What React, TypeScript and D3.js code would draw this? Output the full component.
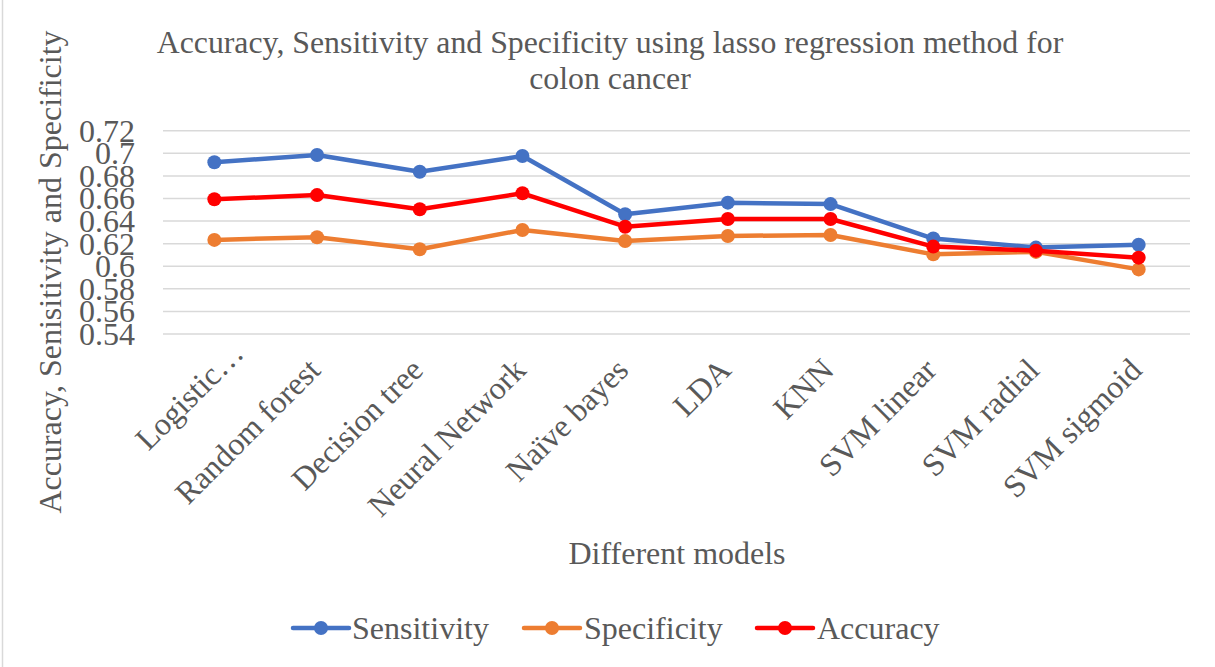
import React from "react";
import * as d3 from "d3";

const categories = [
  "Logistic…",
  "Random forest",
  "Decision tree",
  "Neural Network",
  "Naïve bayes",
  "LDA",
  "KNN",
  "SVM linear",
  "SVM radial",
  "SVM sigmoid",
];

const sensitivity = [0.692, 0.6985, 0.6837, 0.6976, 0.646, 0.6563, 0.655, 0.6245, 0.6165, 0.619];
const specificity = [0.6233, 0.6257, 0.615, 0.6321, 0.6224, 0.6268, 0.6277, 0.6105, 0.6127, 0.5972];
const accuracy = [0.6593, 0.663, 0.6504, 0.6646, 0.635, 0.6418, 0.6418, 0.6174, 0.6138, 0.6076];

const yTicks = [0.54, 0.56, 0.58, 0.6, 0.62, 0.64, 0.66, 0.68, 0.7, 0.72];
const tickLabels = ["0.54", "0.56", "0.58", "0.6", "0.62", "0.64", "0.66", "0.68", "0.7", "0.72"];

const seriesNames = ["Sensitivity", "Specificity", "Accuracy"];
const seriesColors = ["#4472C4", "#ED7D31", "#FF0000"];

const W = 1215;
const H = 667;
const plotLeft = 163;
const plotRight = 1190;
const FONT = "'Liberation Serif', 'Times New Roman', serif";
const TEXT = "#595959";
const FS = 32;

const tStyle: React.CSSProperties = { fontFamily: FONT, fontSize: FS, fill: TEXT };

export default function App() {
  const x = d3.scaleBand<string>().domain(categories).range([plotLeft, plotRight]);
  const y = d3.scaleLinear().domain([0.54, 0.72]).range([334, 130.7]);
  const cx = (c: string) => (x(c) as number) + x.bandwidth() / 2;
  const line = d3
    .line<number>()
    .x((_, i) => cx(categories[i]))
    .y((v) => y(v));
  const series = [sensitivity, specificity, accuracy];

  const legendItems = [
    { lx: 293, tx: 352 },
    { lx: 524, tx: 584 },
    { lx: 757, tx: 817 },
  ];
  const legendY = 628;

  return (
    <svg width={W} height={H} style={{ position: "absolute", left: 0, top: 0, background: "#fff" }}>
      <rect x={0} y={0} width={W} height={H} fill="#fff" />
      <line x1={2.5} x2={2.5} y1={0} y2={H} stroke="#d9d9d9" strokeWidth={1.5} />
      <text x={610} y={53} textAnchor="middle" style={{ ...tStyle, fontSize: 31.8 }}>
        Accuracy, Sensitivity and Specificity using lasso regression method for
      </text>
      <text x={610} y={89} textAnchor="middle" style={{ ...tStyle, fontSize: 31.8 }}>
        colon cancer
      </text>
      {yTicks.map((t, i) => (
        <g key={t}>
          <line x1={plotLeft} x2={plotRight} y1={y(t)} y2={y(t)} stroke="#d9d9d9" strokeWidth={1.5} />
          <text x={135} y={y(t) + 11} textAnchor="end" style={tStyle}>
            {tickLabels[i]}
          </text>
        </g>
      ))}
      <text transform={`translate(61,272) rotate(-90)`} textAnchor="middle" style={tStyle}>
        Accuracy, Senisitivity and Specificity
      </text>
      {categories.map((c, i) => {
        const dx = i === 0 ? 31 : 5;
        const dy = i === 0 ? 355 : 372;
        return (
          <text
            key={c}
            transform={`translate(${cx(c) + dx},${dy}) rotate(-45)`}
            textAnchor="end"
            style={tStyle}
          >
            {c}
          </text>
        );
      })}
      <text x={677} y={564} textAnchor="middle" style={tStyle}>
        Different models
      </text>
      {series.map((s, k) => (
        <g key={seriesNames[k]}>
          <path d={line(s) as string} fill="none" stroke={seriesColors[k]} strokeWidth={4.5} strokeLinejoin="round" />
          {s.map((v, i) => (
            <circle key={i} cx={cx(categories[i])} cy={y(v)} r={7} fill={seriesColors[k]} />
          ))}
        </g>
      ))}
      {legendItems.map((it, k) => (
        <g key={seriesNames[k]}>
          <line x1={it.lx} x2={it.lx + 56} y1={legendY} y2={legendY} stroke={seriesColors[k]} strokeWidth={4.5} strokeLinecap="round" />
          <circle cx={it.lx + 28} cy={legendY} r={7} fill={seriesColors[k]} />
          <text x={it.tx} y={legendY + 11} style={tStyle}>
            {seriesNames[k]}
          </text>
        </g>
      ))}
    </svg>
  );
}
